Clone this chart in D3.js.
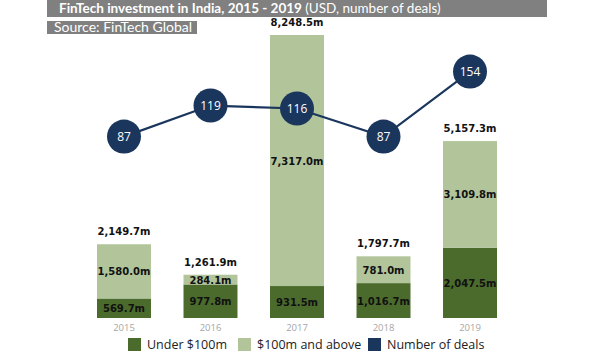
<!DOCTYPE html>
<html>
<head>
<meta charset="utf-8">
<script src="https://cdn.jsdelivr.net/npm/d3@7"></script>
<style>
  body { margin: 0; background: #fff; }
  svg { display: block; }
</style>
</head>
<body>
<div id="chart"></div>
<script>
const years = ['2015', '2016', '2017', '2018', '2019'];
const under100 = [569.7, 977.8, 931.5, 1016.7, 2047.5];
const above100 = [1580.0, 284.1, 7317.0, 781.0, 3109.8];
const totals = [2149.7, 1261.9, 8248.5, 1797.7, 5157.3];
const deals = [87, 119, 116, 87, 154];
const legendLabels = ['Under $100m', '$100m and above', 'Number of deals'];

const colors = { under: '#4b6b2c', above: '#b2c59a', deals: '#1b365d' };
const fmt = d3.format(',.1f');

const width = 600, height = 360;
const svg = d3.select('#chart').append('svg')
    .attr('width', width)
    .attr('height', height);

// title bars
svg.append('rect').attr('x', 47).attr('y', 0).attr('width', 500).attr('height', 17).attr('fill', '#808080');
const title = svg.append('text').attr('x', 59).attr('y', 13)
    .style('font-family', 'Lato').style('font-size', '13.5px').attr('fill', '#fff');
title.append('tspan').style('font-weight', 'bold').text('FinTech investment in India, 2015 - 2019 ');
title.append('tspan').text('(USD, number of deals)');

svg.append('rect').attr('x', 47).attr('y', 21).attr('width', 150).attr('height', 13).attr('fill', '#808080');
svg.append('text').attr('x', 54).attr('y', 32)
    .style('font-family', 'Lato').style('font-size', '14px').attr('fill', '#fff')
    .text('Source: FinTech Global');

// scales
const x = d3.scaleBand().domain(years).range([97, 497]).paddingInner(0.376).paddingOuter(0);
const y = d3.scaleLinear().domain([0, 8248.5]).range([318, 35]);
const yDeals = d3.scaleLinear().domain([0, 200]).range([221, 27]);

const chart = svg.append('g');

const rows = years.map((yr, i) => ({ yr, under: under100[i], above: above100[i], total: totals[i], deals: deals[i] }));

// stacked bars
chart.selectAll('.under').data(rows).enter().append('rect')
    .attr('class', 'under')
    .attr('x', d => x(d.yr)).attr('width', x.bandwidth())
    .attr('y', d => y(d.under)).attr('height', d => y(0) - y(d.under))
    .attr('fill', colors.under);

chart.selectAll('.above').data(rows).enter().append('rect')
    .attr('class', 'above')
    .attr('x', d => x(d.yr)).attr('width', x.bandwidth())
    .attr('y', d => y(d.under + d.above)).attr('height', d => y(d.under) - y(d.under + d.above))
    .attr('fill', colors.above);

const labelStyle = sel => sel
    .attr('text-anchor', 'middle')
    .style('font-family', 'DejaVu Sans')
    .style('font-weight', 'bold')
    .style('font-size', '10px')
    .attr('fill', '#111');

chart.selectAll('.lblUnder').data(rows).enter().append('text')
    .attr('x', d => x(d.yr) + x.bandwidth() / 2)
    .attr('y', d => (y(0) + y(d.under)) / 2 + 4)
    .call(labelStyle)
    .text(d => fmt(d.under) + 'm');

chart.selectAll('.lblAbove').data(rows).enter().append('text')
    .attr('x', d => x(d.yr) + x.bandwidth() / 2)
    .attr('y', d => (y(d.under) + y(d.under + d.above)) / 2 + 4)
    .call(labelStyle)
    .text(d => fmt(d.above) + 'm');

chart.selectAll('.lblTotal').data(rows).enter().append('text')
    .attr('x', d => x(d.yr) + x.bandwidth() / 2)
    .attr('y', d => y(d.total) - 9)
    .call(labelStyle)
    .text(d => fmt(d.total) + 'm');

// x axis
const xAxis = chart.append('g')
    .attr('transform', `translate(0,${y(0)})`)
    .call(d3.axisBottom(x).tickSize(0).tickPadding(6));
xAxis.select('.domain').remove();
xAxis.selectAll('text')
    .style('font-family', 'Open Sans').style('font-size', '9.5px').attr('fill', '#a6a6a6');

// deals line
const line = d3.line()
    .x(d => x(d.yr) + x.bandwidth() / 2)
    .y(d => yDeals(d.deals));
chart.append('path').datum(rows)
    .attr('d', line)
    .attr('fill', 'none')
    .attr('stroke', colors.deals)
    .attr('stroke-width', 2.2);

const dots = chart.selectAll('.dot').data(rows).enter().append('g')
    .attr('transform', d => `translate(${x(d.yr) + x.bandwidth() / 2},${yDeals(d.deals)})`);
dots.append('circle').attr('r', 17).attr('fill', colors.deals);
dots.append('text')
    .attr('text-anchor', 'middle').attr('dy', '0.36em')
    .style('font-family', 'Open Sans').style('font-size', '12px').attr('fill', '#fff')
    .text(d => d.deals);

// legend
const legendX = [128, 238, 368];
const legendColors = [colors.under, colors.above, colors.deals];
const legend = svg.selectAll('.legend').data(legendLabels).enter().append('g')
    .attr('transform', (d, i) => `translate(${legendX[i]},338)`);
legend.append('rect').attr('width', 13).attr('height', 13).attr('fill', (d, i) => legendColors[i]);
legend.append('text').attr('x', 19).attr('y', 11)
    .style('font-family', 'Open Sans').style('font-size', '12.5px').attr('fill', '#222')
    .text(d => d);
</script>
</body>
</html>
